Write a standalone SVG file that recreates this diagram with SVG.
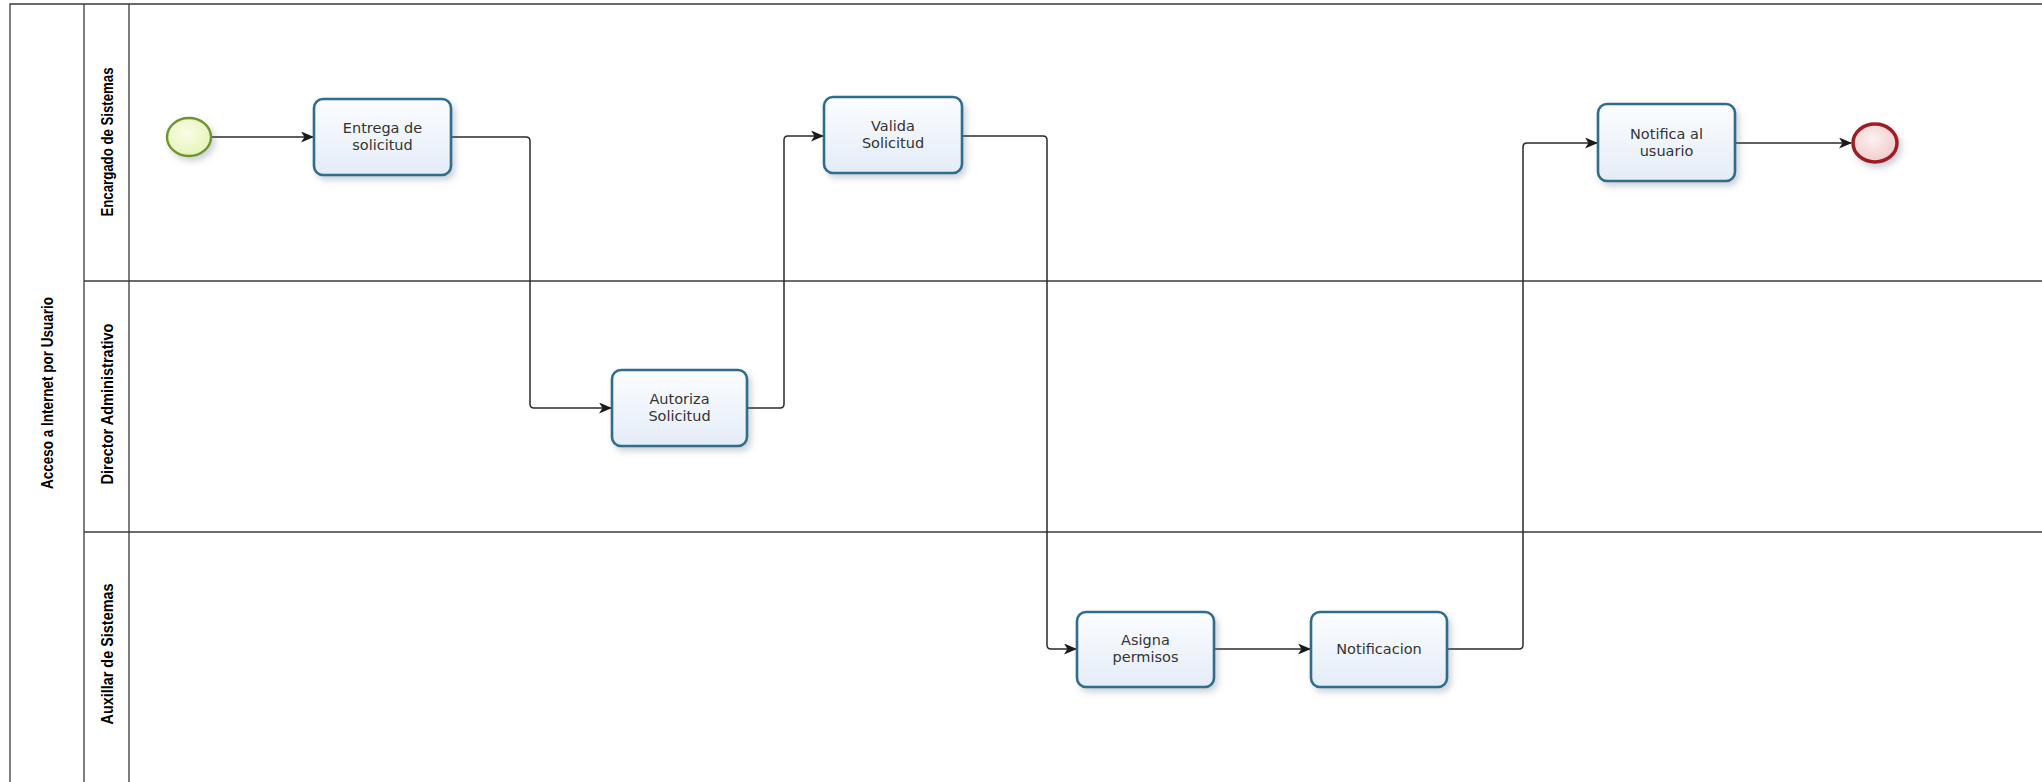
<svg xmlns="http://www.w3.org/2000/svg" width="2042" height="782" viewBox="0 0 2042 782">
  <defs>
    <linearGradient id="taskFill" x1="0" y1="0" x2="0" y2="1">
      <stop offset="0" stop-color="#fbfdff"/>
      <stop offset="1" stop-color="#e4ecf7"/>
    </linearGradient>
    <radialGradient id="startFill" cx="0.45" cy="0.4" r="0.6">
      <stop offset="0" stop-color="#fafde8"/>
      <stop offset="1" stop-color="#e6f3b8"/>
    </radialGradient>
    <radialGradient id="endFill" cx="0.45" cy="0.4" r="0.6">
      <stop offset="0" stop-color="#fdf0f0"/>
      <stop offset="1" stop-color="#f2cccc"/>
    </radialGradient>
    <filter id="shadow" x="-20%" y="-20%" width="150%" height="160%">
      <feDropShadow dx="3" dy="4" stdDeviation="3" flood-color="#5a6a80" flood-opacity="0.3"/>
    </filter>
    <marker id="arrow" viewBox="0 0 13 11" refX="12" refY="5.5" markerWidth="13" markerHeight="11" markerUnits="userSpaceOnUse" orient="auto">
      <path d="M0,0 L13,5.5 L0,11 L3.5,5.5 Z" fill="#1a1a1a"/>
    </marker>
  </defs>
  <style>
    .pool { fill: #ffffff; stroke: #3a3a3a; stroke-width: 1.3; }
    .lane { fill: none; stroke: #3a3a3a; stroke-width: 1.3; }
    .hdr { font-family: "Liberation Sans", Arial, sans-serif; font-weight: bold; font-size: 17px; fill: #000; }
    .task { fill: url(#taskFill); stroke: #2e6e8c; stroke-width: 2.6; filter: url(#shadow); }
    .label { font-family: "DejaVu Sans", Verdana, sans-serif; font-size: 14.5px; fill: #333; text-anchor: middle; }
    .flow { fill: none; stroke: #2a2a2a; stroke-width: 1.5; marker-end: url(#arrow); }
    .start { fill: url(#startFill); stroke: #6e9431; stroke-width: 2.4; filter: url(#shadow); }
    .end { fill: url(#endFill); stroke: #9e1d24; stroke-width: 3.5; filter: url(#shadow); }
  </style>

  <rect width="2042" height="782" fill="#ffffff"/>

  <!-- pool and lanes -->
  <g id="pool">
    <path class="pool" d="M2060,4 H10 V800"/>
    <line class="lane" x1="84" y1="4" x2="84" y2="800"/>
    <line class="lane" x1="129" y1="4" x2="129" y2="800"/>
    <line class="lane" x1="84" y1="281" x2="2060" y2="281"/>
    <line class="lane" x1="84" y1="532" x2="2060" y2="532"/>
    <text class="hdr" transform="translate(53,393) rotate(-90)" text-anchor="middle" textLength="192" lengthAdjust="spacingAndGlyphs">Acceso a Internet por Usuario</text>
    <text class="hdr" transform="translate(113,142) rotate(-90)" text-anchor="middle" textLength="149" lengthAdjust="spacingAndGlyphs">Encargado de Sistemas</text>
    <text class="hdr" transform="translate(113,404) rotate(-90)" text-anchor="middle" textLength="161" lengthAdjust="spacingAndGlyphs">Director Administrativo</text>
    <text class="hdr" transform="translate(113,654) rotate(-90)" text-anchor="middle" textLength="141" lengthAdjust="spacingAndGlyphs">Auxillar de Sistemas</text>
  </g>

  <!-- sequence flows -->
  <g id="connectors">
    <path class="flow" d="M211,137 H313"/>
    <path class="flow" d="M451,137 H526 Q530,137 530,141 V404 Q530,408 534,408 H611"/>
    <path class="flow" d="M747,408 H780 Q784,408 784,404 V140 Q784,136 788,136 H823"/>
    <path class="flow" d="M962,136 H1043 Q1047,136 1047,140 V645 Q1047,649 1051,649 H1076"/>
    <path class="flow" d="M1214,649 H1310"/>
    <path class="flow" d="M1447,649 H1519 Q1523,649 1523,645 V147 Q1523,143 1527,143 H1597"/>
    <path class="flow" d="M1735,143 H1851"/>
  </g>

  <!-- events and tasks -->
  <g id="start">
    <ellipse class="start" cx="189" cy="137" rx="22" ry="19"/>
  </g>
  <g id="entrega">
    <rect class="task" x="314" y="99" width="137" height="76" rx="9"/>
    <text class="label" x="382.5" y="133">Entrega de</text>
    <text class="label" x="382.5" y="150">solicitud</text>
  </g>
  <g id="autoriza">
    <rect class="task" x="612" y="370" width="135" height="76" rx="9"/>
    <text class="label" x="679.5" y="404">Autoriza</text>
    <text class="label" x="679.5" y="421">Solicitud</text>
  </g>
  <g id="valida">
    <rect class="task" x="824" y="97" width="138" height="76" rx="9"/>
    <text class="label" x="893" y="131">Valida</text>
    <text class="label" x="893" y="148">Solicitud</text>
  </g>
  <g id="asigna">
    <rect class="task" x="1077" y="612" width="137" height="75" rx="9"/>
    <text class="label" x="1145.5" y="645">Asigna</text>
    <text class="label" x="1145.5" y="662">permisos</text>
  </g>
  <g id="notificacion">
    <rect class="task" x="1311" y="612" width="136" height="75" rx="9"/>
    <text class="label" x="1379" y="654">Notificacion</text>
  </g>
  <g id="notifica-usuario">
    <rect class="task" x="1598" y="104" width="137" height="77" rx="9"/>
    <text class="label" x="1666.5" y="139">Notifica al</text>
    <text class="label" x="1666.5" y="156">usuario</text>
  </g>
  <g id="end">
    <ellipse class="end" cx="1875" cy="143" rx="22" ry="19"/>
  </g>
</svg>
